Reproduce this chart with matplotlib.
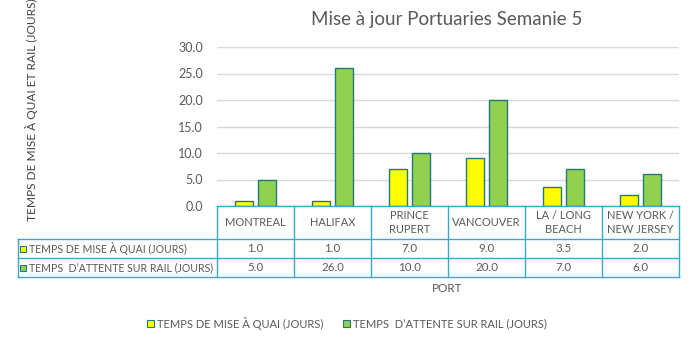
import numpy as np
import matplotlib
matplotlib.use("Agg")
import matplotlib.pyplot as plt
from matplotlib.patches import Rectangle
from matplotlib.lines import Line2D

ports = ["MONTREAL", "HALIFAX", "PRINCE\nRUPERT", "VANCOUVER", "LA / LONG\nBEACH", "NEW YORK /\nNEW JERSEY"]
quai = [1.0, 1.0, 7.0, 9.0, 3.5, 2.0]
rail = [5.0, 26.0, 10.0, 20.0, 7.0, 6.0]
series_names = ["TEMPS DE MISE À QUAI (JOURS)", "TEMPS  D\u2019ATTENTE SUR RAIL (JOURS)"]
title = "Mise à jour Portuaries Semanie 5"
ylabel = "TEMPS DE MISE À QUAI ET RAIL (JOURS)"
xlabel = "PORT"
yticks = [0, 5, 10, 15, 20, 25, 30]

W, H = 694, 337
plt.rcParams["font.family"] = ["Lato", "DejaVu Sans"]
TXT = "#595959"
GRID = "#d9d9d9"
TBL = "#3aa6c8"
YEL = "#ffff00"
GRN = "#92d050"
EDGE = "#1f7a7a"

fig = plt.figure(figsize=(W / 100, H / 100), dpi=100)
fig.patch.set_facecolor("white")


def fx(x):
    return x / W


def fy(y):
    return 1 - y / H


L, R, T, B = 217, 679, 47, 206
ax = fig.add_axes([fx(L), fy(B), fx(R - L), (B - T) / H])
x = np.arange(len(ports))
bw = 0.23
ax.bar(x - 0.145, quai, bw, color=YEL, edgecolor=EDGE, linewidth=1.0, zorder=3)
ax.bar(x + 0.145, rail, bw, color=GRN, edgecolor=EDGE, linewidth=1.0, zorder=3)
ax.set_xlim(-0.5, len(ports) - 0.5)
ax.set_ylim(0, 30)
ax.set_yticks(yticks)
ax.set_yticklabels([f"{v:.1f}" for v in yticks])
ax.tick_params(axis="y", length=0, pad=10, labelsize=9, labelcolor=TXT)
ax.set_xticks([])
ax.grid(axis="y", color=GRID, linewidth=1.0, zorder=0)
for s in ax.spines.values():
    s.set_visible(False)
ax.patch.set_alpha(0)

fig.text(fx(447), fy(19), title, ha="center", va="center", fontsize=13.5, color=TXT)
fig.text(fx(32), fy(110), ylabel, ha="center", va="center", rotation=90,
         fontsize=8.6, color="#404040")
fig.text(fx(447), fy(289), xlabel, ha="center", va="center", fontsize=8.5, color=TXT)

# data table below the axes
def line(x0, y0, x1, y1):
    fig.add_artist(Line2D([fx(x0), fx(x1)], [fy(y0), fy(y1)], color=TBL, linewidth=1.0))

cw = (R - L) / len(ports)
line(L, 206, R, 206)
line(18, 239, R, 239)
line(18, 258, R, 258)
line(18, 277, R, 277)
line(18, 239, 18, 277)
for i in range(len(ports) + 1):
    xc = L + i * cw
    line(xc, 206, xc, 277)

for i, p in enumerate(ports):
    cx = L + (i + 0.5) * cw
    fig.text(fx(cx), fy(222.5), p, ha="center", va="center", fontsize=8, color=TXT,
             linespacing=1.25)
    fig.text(fx(cx), fy(248.5), f"{quai[i]:.1f}", ha="center", va="center", fontsize=8.3, color=TXT)
    fig.text(fx(cx), fy(267.5), f"{rail[i]:.1f}", ha="center", va="center", fontsize=8.3, color=TXT)

for yy, name, col in [(248.5, series_names[0], YEL), (267.5, series_names[1], GRN)]:
    fig.add_artist(Rectangle((fx(20), fy(yy + 3)), fx(6), 6 / H, facecolor=col,
                             edgecolor=EDGE, linewidth=0.8))
    fig.text(fx(29), fy(yy), name, ha="left", va="center", fontsize=7.6, color=TXT)

# legend
handles = [Rectangle((0, 0), 1, 1, facecolor=YEL, edgecolor=EDGE, linewidth=0.8),
           Rectangle((0, 0), 1, 1, facecolor=GRN, edgecolor=EDGE, linewidth=0.8)]
fig.legend(handles, series_names, loc="center", bbox_to_anchor=(fx(347), fy(323)), ncol=2,
           frameon=False, fontsize=8, labelcolor=TXT, handlelength=0.6, handleheight=0.6,
           handletextpad=0.3, columnspacing=1.8)

fig.savefig("out.png", dpi=100)
